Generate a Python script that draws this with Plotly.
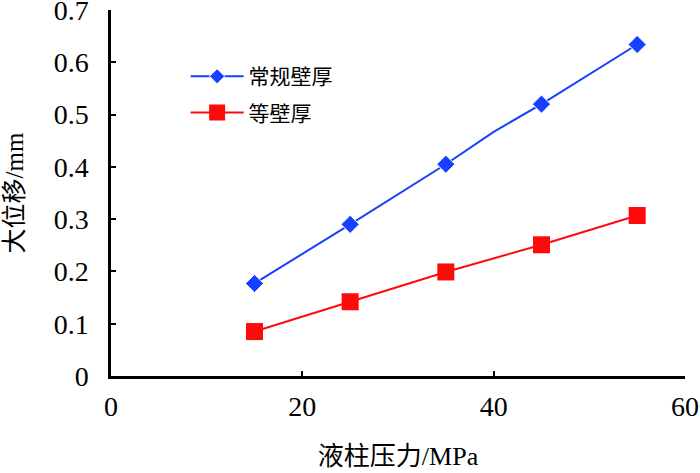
import plotly.graph_objects as go

# 常规壁厚 (line has a slight bend at 40 MPa, no marker there)
x_normal = [15, 25, 35, 40, 45, 55]
y_normal = [0.177, 0.290, 0.405, 0.467, 0.520, 0.634]
size_normal = [14, 14, 14, 0, 14, 14]

# 等壁厚
x_equal = [15, 25, 35, 45, 55]
y_equal = [0.085, 0.142, 0.199, 0.251, 0.307]

y_ticks = [0, 0.1, 0.2, 0.3, 0.4, 0.5, 0.6, 0.7]
y_ticktext = ["0", "0.1", "0.2", "0.3", "0.4", "0.5", "0.6", "0.7"]

serif = "Liberation Serif, Times New Roman, Noto Sans CJK SC"

fig = go.Figure()
fig.add_trace(go.Scatter(
    x=x_normal, y=y_normal, mode="lines+markers", name="常规壁厚",
    legendgroup="a",
    line=dict(color="#1540FF", width=2),
    marker=dict(symbol="diamond", size=size_normal, color="#1540FF", opacity=1),
))
fig.add_trace(go.Scatter(
    x=x_equal, y=y_equal, mode="lines+markers", name="等壁厚",
    legendgroup="b",
    line=dict(color="#FF0A0A", width=2),
    marker=dict(symbol="square", size=17, color="#FF0A0A", opacity=1),
))

axis_common = dict(
    showline=True, linecolor="black", linewidth=2.5,
    ticks="inside", ticklen=5, tickwidth=2, tickcolor="black",
    showgrid=False, zeroline=False, mirror=False, automargin=False,
    ticklabeloverflow="allow",
    tickfont=dict(family=serif, size=28, color="black"),
)

fig.update_layout(
    width=700, height=473,
    margin=dict(l=111, r=15, t=10, b=97),
    plot_bgcolor="white", paper_bgcolor="white",
    font=dict(family=serif, color="black"),
    xaxis=dict(range=[0, 60], dtick=20, ticklabelstandoff=4,
               title=dict(text="液柱压力/MPa", font=dict(family=serif, size=26), standoff=26),
               **axis_common),
    yaxis=dict(range=[0, 0.7], tickmode="array", tickvals=y_ticks, ticktext=y_ticktext,
               ticklabelstandoff=14,
               title=dict(text="大位移/mm", font=dict(family=serif, size=25), standoff=23),
               **axis_common),
    legend=dict(x=0.13, y=0.874, xanchor="left", yanchor="top",
                bgcolor="rgba(0,0,0,0)", font=dict(family=serif, size=21),
                itemwidth=53, traceorder="grouped", tracegroupgap=6),
    showlegend=True,
)

# drop the default page margin so the figure fills the window
fig.write_html("out.html", config={"displayModeBar": False},
               post_script="document.body.style.margin='0';")
